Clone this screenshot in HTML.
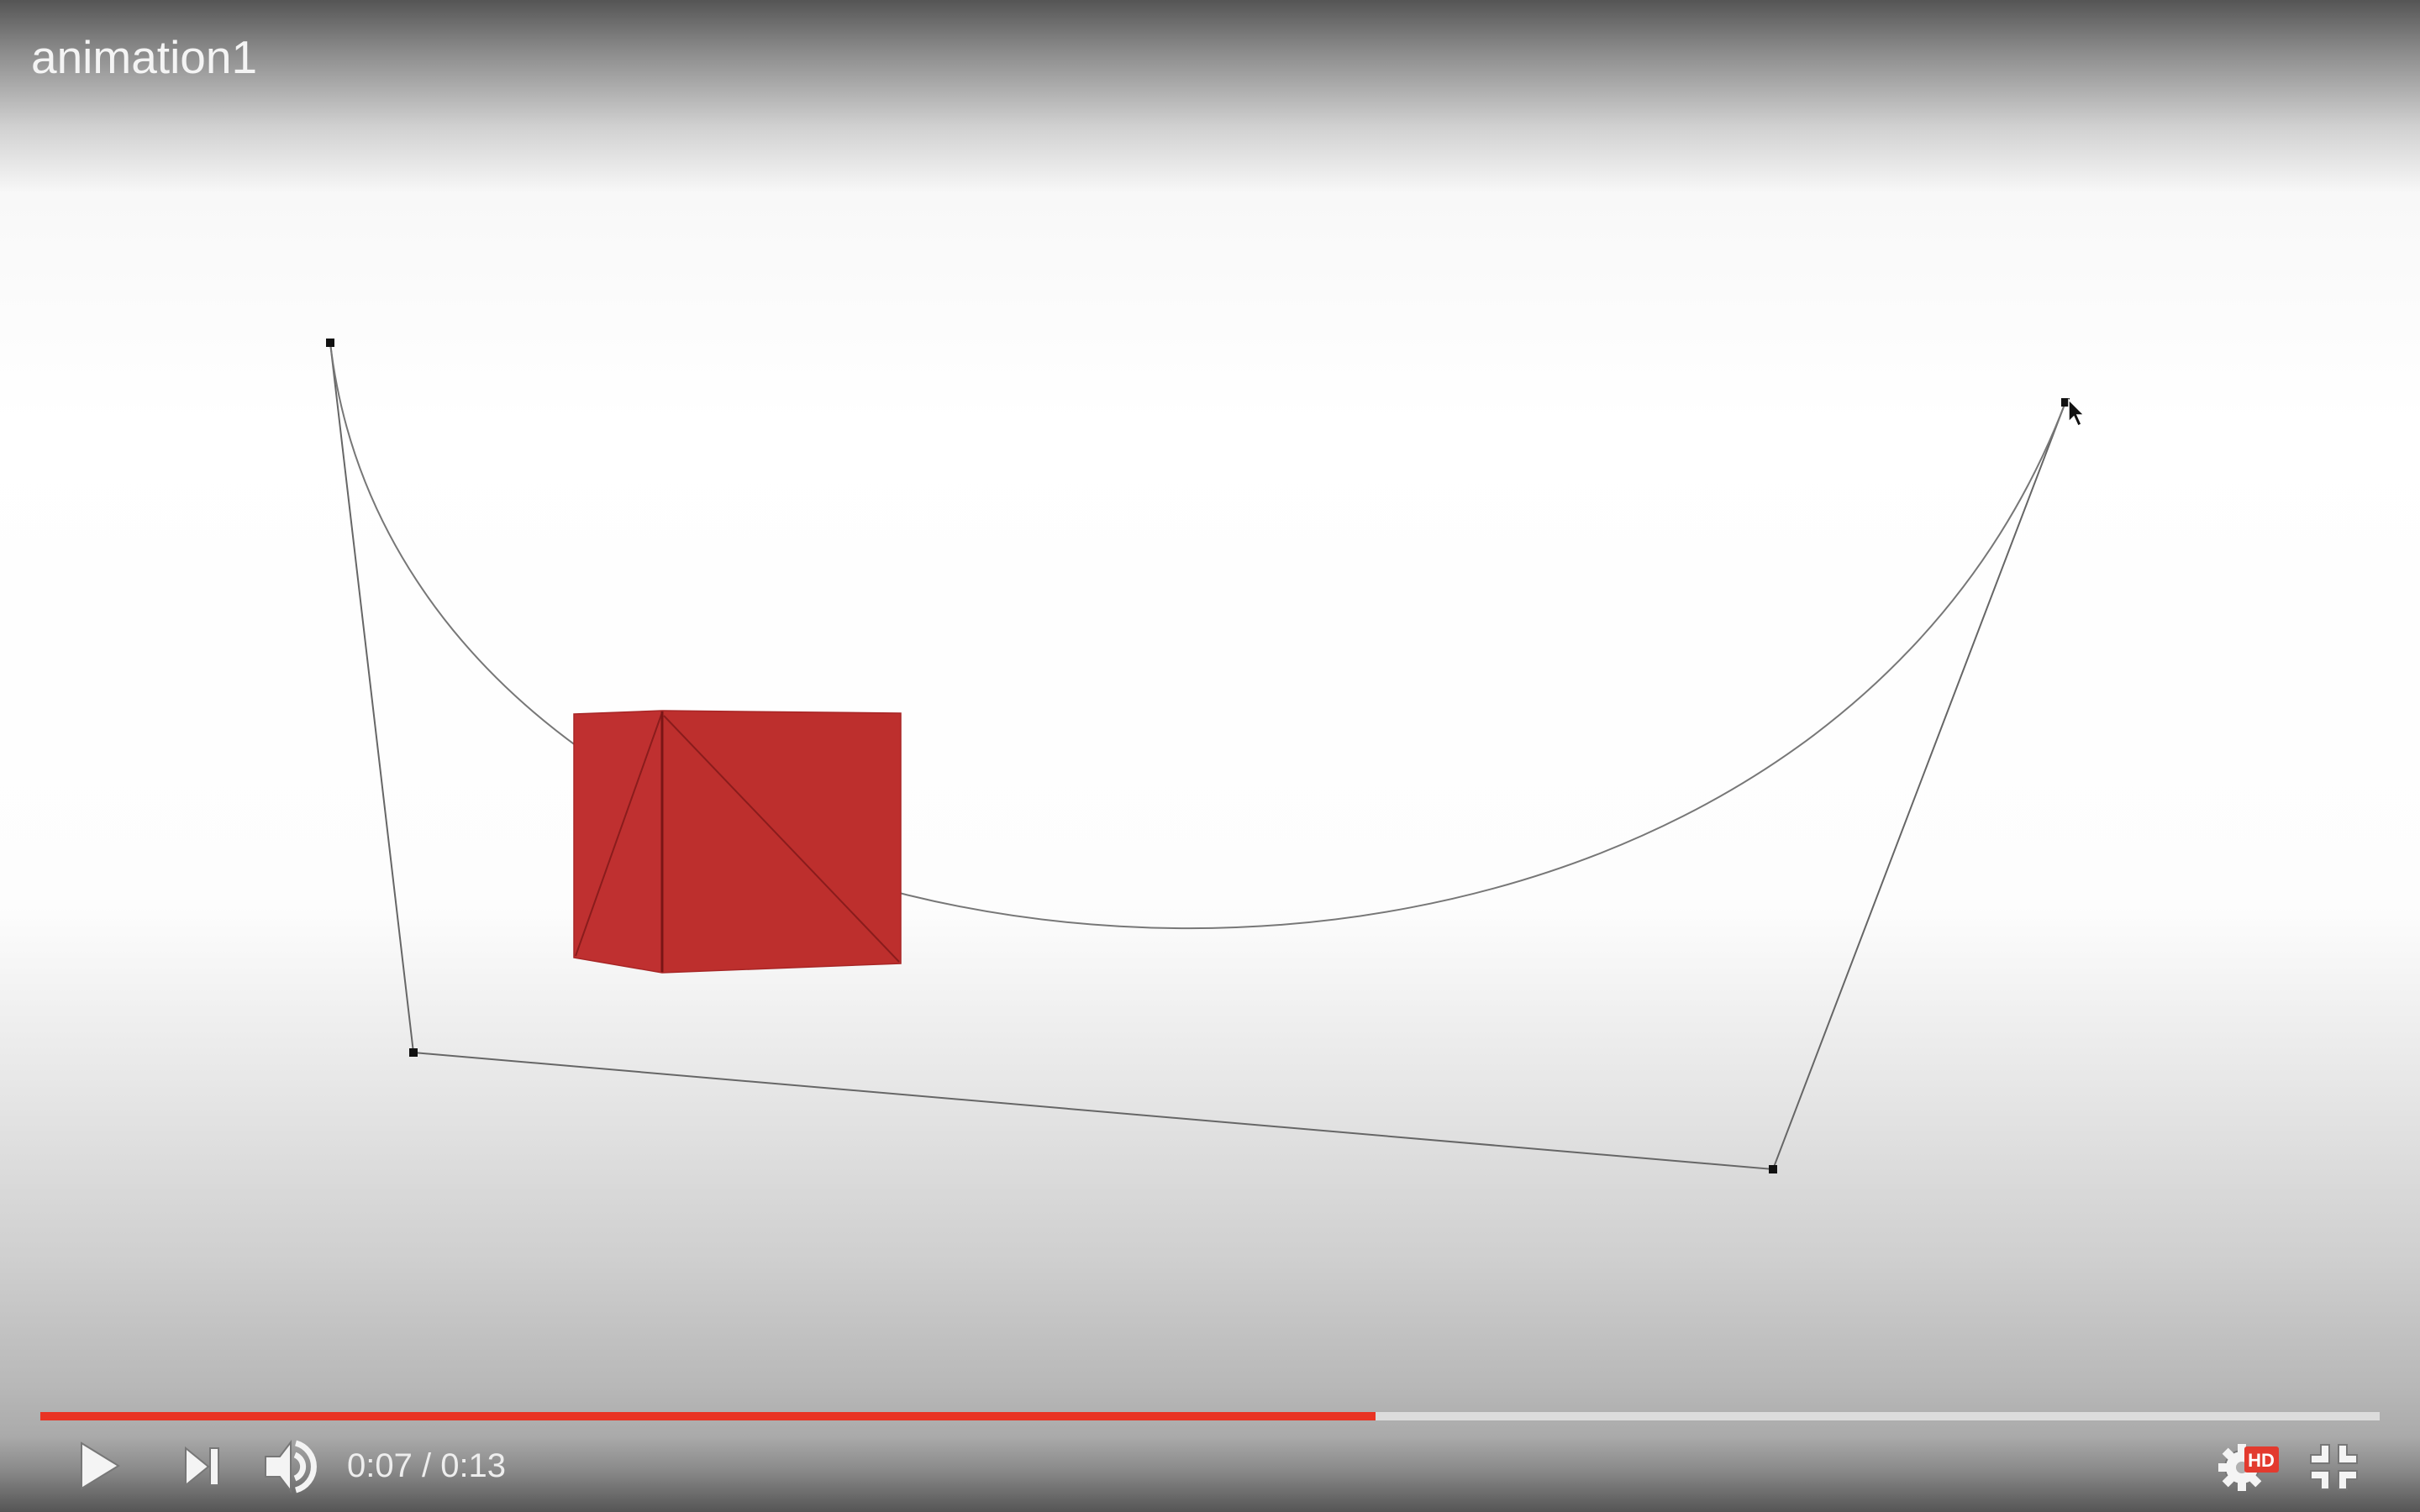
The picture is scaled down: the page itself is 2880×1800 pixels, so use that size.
<!DOCTYPE html>
<html><head><meta charset="utf-8"><style>
html,body{margin:0;padding:0}
body{width:2880px;height:1800px;position:relative;overflow:hidden;font-family:"Liberation Sans",sans-serif;
background:linear-gradient(to bottom,#555 0px,#8a8a8a 60px,#d0d0d0 150px,#f8f8f8 230px,#fff 500px,#fdfdfd 1080px,#e6e6e6 1300px,#cfcfcf 1500px,#b8b8b8 1650px,#aaa 1710px,#8a8a8a 1750px,#555 1800px);}
svg{position:absolute;left:0;top:0}
</style></head><body>
<div style="position:absolute;left:37px;top:36px;font-size:55px;color:#f4f4f4;">animation1</div>
<svg width="2880" height="1800">
<g stroke="#666" stroke-width="2" fill="none">
<polyline points="393,408 492,1253 2110,1392 2458,479"/>
</g>
<path d="M393,408 C492,1253 2110,1392 2458,479" stroke="#777" stroke-width="2" fill="none"/>
<g fill="#111">
<rect x="388" y="403" width="10" height="10"/><rect x="487" y="1248" width="10" height="10"/>
<rect x="2105" y="1387" width="10" height="10"/><rect x="2453" y="474" width="10" height="10"/>
</g>
<path d="M2462,476 L2462,502 L2468,496 L2473,507 L2477,505 L2472,494 L2480,494 Z" fill="#111" stroke="#fff" stroke-width="1.5"/>
<g>
<polygon points="683,850 788,846 788,1158 683,1140" fill="#bf3030"/>
<polygon points="788,846 1072,849 1072,1147 788,1158" fill="#bd2f2d"/>
<line x1="685" y1="1138" x2="788" y2="848" stroke="#8a1c1c" stroke-width="2"/>
<line x1="790" y1="852" x2="1070" y2="1145" stroke="#8a1c1c" stroke-width="2"/>
<line x1="788" y1="846" x2="788" y2="1158" stroke="#7a1515" stroke-width="3"/>
<polygon points="683,850 788,846 1072,849 1072,1147 788,1158 683,1140" fill="none" stroke="#a82626" stroke-width="1.5"/>
</g>
<rect x="48" y="1681" width="2784" height="10" fill="#dcdcdc"/>
<rect x="48" y="1681" width="1589" height="10" fill="#e93323"/>
<polygon points="97,1718 141,1745 97,1772" fill="#f4f4f4" stroke="#777" stroke-width="2"/>
<g fill="#f4f4f4" stroke="#777" stroke-width="2">
<polygon points="221,1724 248,1746 221,1768"/><rect x="250" y="1724" width="10" height="44"/>
</g>
<g stroke="#777" stroke-width="2">
<polygon points="316,1734 333,1734 346,1717 346,1775 333,1758 316,1758" fill="#f4f4f4"/>
<path d="M351,1732 A15,15 0 0 1 351,1760" fill="none" stroke="#f4f4f4" stroke-width="7"/>
<path d="M352,1718 A29,29 0 0 1 352,1774" fill="none" stroke="#f4f4f4" stroke-width="7"/>
</g>
<text x="413" y="1758" font-family="Liberation Sans, sans-serif" font-size="40" fill="#eee">0:07 / 0:13</text>
<g>
<circle cx="2668" cy="1747" r="20" fill="#f4f4f4" stroke="#777" stroke-width="2"/>
<g fill="#f4f4f4"><rect x="2663" y="1719" width="10" height="56"/><rect x="2640" y="1742" width="56" height="10"/>
<rect x="2663" y="1719" width="10" height="56" transform="rotate(45 2668 1747)"/><rect x="2663" y="1719" width="10" height="56" transform="rotate(-45 2668 1747)"/></g>
<circle cx="2668" cy="1747" r="7" fill="#b0b0b0"/>
</g>
<g>
<rect x="2671" y="1722" width="41" height="31" rx="3" fill="#e33a2e"/>
<text x="2691" y="1746" text-anchor="middle" font-family="Liberation Sans, sans-serif" font-weight="bold" font-size="22" fill="#fff">HD</text>
</g>
<g fill="#f4f4f4" stroke="#777" stroke-width="2">
<path d="M2762,1720 h10 v22 h-22 v-10 h12 z"/><path d="M2783,1720 h10 v12 h12 v10 h-22 z"/>
<path d="M2750,1751 h22 v22 h-10 v-12 h-12 z"/><path d="M2783,1751 h22 v10 h-12 v12 h-10 z"/>
</g>
</svg>
</body></html>
